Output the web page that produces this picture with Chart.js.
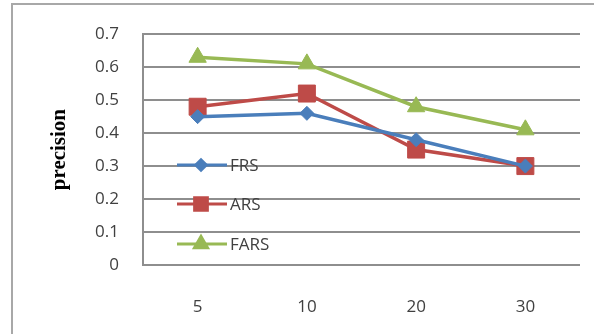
<!DOCTYPE html>
<html>
<head>
<meta charset="utf-8">
<script src="https://cdn.jsdelivr.net/npm/chart.js@4/dist/chart.umd.min.js"></script>
<style>
  html, body { margin: 0; padding: 0; background: #fff; }
  #wrap { width: 594px; height: 334px; position: relative; }
</style>
</head>
<body>
<div id="wrap"><canvas id="precisionChart" width="594" height="334"></canvas></div>
<script>
// top-k sizes on the x axis
const categories = ["5", "10", "20", "30"];
const frsValues = [0.45, 0.46, 0.38, 0.30];
const arsValues = [0.48, 0.52, 0.35, 0.30];
const farsValues = [0.63, 0.61, 0.48, 0.41];
const seriesNames = ["FRS", "ARS", "FARS"];

const labelFont = { family: "'Open Sans', Lato, sans-serif", size: 17 };
const labelColor = "#404040";

// frame along the left and top of the figure
const framePlugin = {
  id: "frame",
  beforeDraw(chart) {
    const ctx = chart.ctx;
    ctx.save();
    ctx.fillStyle = "#fff";
    ctx.fillRect(0, 0, chart.width, chart.height);
    ctx.strokeStyle = "#a8a8a8";
    ctx.lineWidth = 2;
    ctx.beginPath();
    ctx.moveTo(12, chart.height);
    ctx.lineTo(12, 4);
    ctx.lineTo(chart.width, 4);
    ctx.stroke();
    ctx.restore();
  }
};

// legend drawn inside the plot, lower left corner
const insideLegend = {
  id: "insideLegend",
  afterDatasetsDraw(chart) {
    const ctx = chart.ctx;
    const area = chart.chartArea;
    const x0 = area.left + 34;
    const rows = [165, 204, 244];
    ctx.save();
    chart.data.datasets.forEach((ds, i) => {
      const y = rows[i];
      ctx.strokeStyle = ds.borderColor;
      ctx.lineWidth = 3;
      ctx.beginPath();
      ctx.moveTo(x0, y);
      ctx.lineTo(x0 + 50, y);
      ctx.stroke();
      ctx.fillStyle = ds.borderColor;
      Chart.helpers.drawPoint(ctx, {
        pointStyle: ds.pointStyle,
        radius: ds.pointRadius * 0.75,
        borderWidth: 1
      }, x0 + 24, y);
      ctx.fillStyle = labelColor;
      ctx.font = labelFont.size + "px " + labelFont.family;
      ctx.textBaseline = "middle";
      ctx.textAlign = "left";
      ctx.fillText(ds.label, x0 + 53, y + 1);
    });
    ctx.restore();
  }
};

function series(label, data, color, style, radius) {
  return {
    label: label,
    data: data,
    borderColor: color,
    backgroundColor: color,
    pointBackgroundColor: color,
    pointBorderColor: color,
    borderWidth: 3.5,
    pointStyle: style,
    pointRadius: radius,
    pointBorderWidth: 1,
    tension: 0
  };
}

new Chart(document.getElementById("precisionChart"), {
  type: "line",
  data: {
    labels: categories,
    datasets: [
      series(seriesNames[0], frsValues, "#4a7ebb", "rectRot", 7),
      series(seriesNames[1], arsValues, "#be4b48", "rect", 12),
      series(seriesNames[2], farsValues, "#98b954", "triangle", 10)
    ]
  },
  options: {
    responsive: false,
    animation: false,
    layout: { padding: { left: 0, right: 14, top: 29, bottom: 0 } },
    plugins: {
      legend: { display: false },
      tooltip: { enabled: false }
    },
    scales: {
      x: {
        offset: true,
        grid: { display: false, drawTicks: false },
        border: { display: false },
        ticks: { color: labelColor, font: labelFont, padding: 32 },
        afterFit(scale) { scale.height = 69; }
      },
      y: {
        min: 0,
        max: 0.7,
        ticks: {
          stepSize: 0.1,
          color: labelColor,
          font: labelFont,
          padding: 24,
          callback: v => String(Number(v.toFixed(1)))
        },
        grid: { color: "#8e8e8e", lineWidth: 2, drawTicks: false },
        border: { display: true, color: "#8e8e8e", width: 2 },
        title: {
          display: true,
          text: "precision",
          color: "#000",
          font: { family: "'Liberation Serif', 'Times New Roman', serif", size: 21, weight: "bold" },
          padding: { top: 47, bottom: 0 }
        },
        afterFit(scale) { scale.width = 143; }
      }
    }
  },
  plugins: [framePlugin, insideLegend]
});
</script>
</body>
</html>
